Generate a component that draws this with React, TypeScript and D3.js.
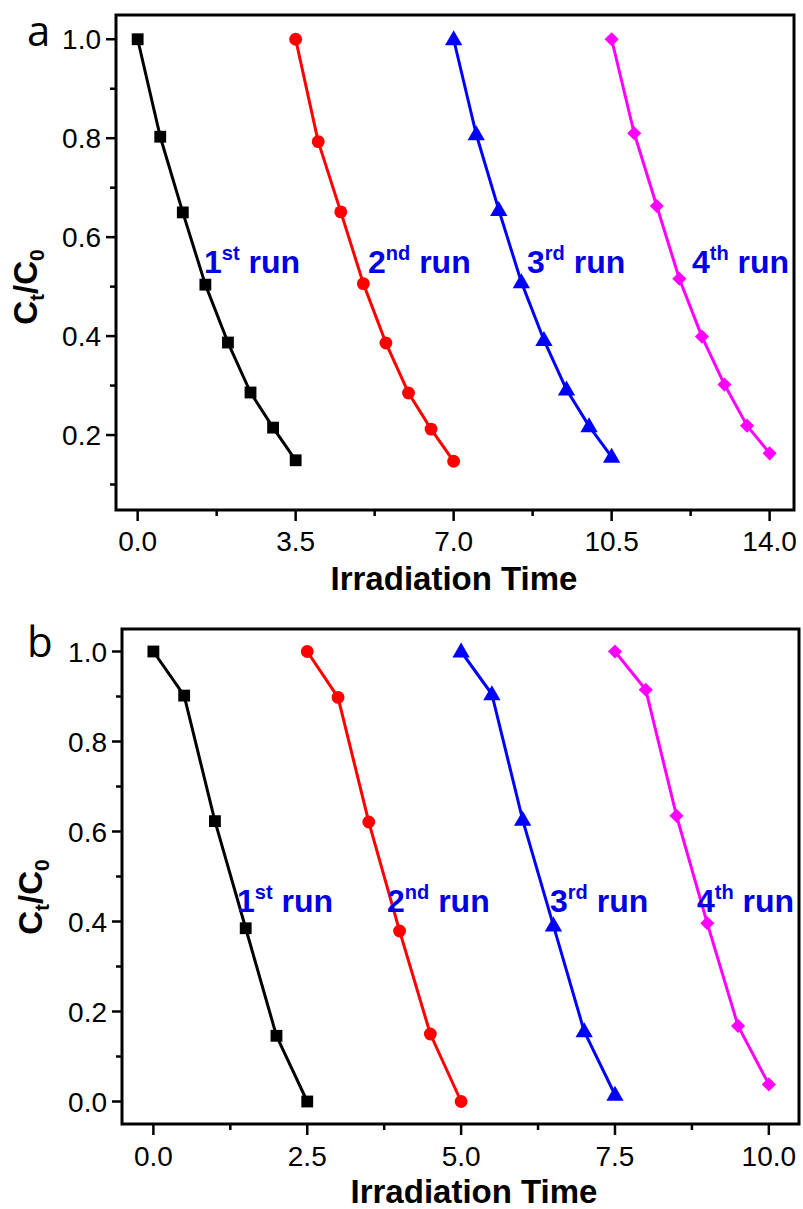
import React from 'react';
import * as d3 from 'd3';

// ---------- Data ----------
const runLabels = ['1st', '2nd', '3rd', '4th'];
const runSup = ['st', 'nd', 'rd', 'th'];
const runColors = ['#000000', '#ff0000', '#0000ff', '#ff00ff'];
const runMarkers = ['square', 'circle', 'triangle', 'diamond'];

// Panel a
const timeA_run1 = [0.0, 0.5, 1.0, 1.5, 2.0, 2.5, 3.0, 3.5];
const timeA_run2 = [3.5, 4.0, 4.5, 5.0, 5.5, 6.0, 6.5, 7.0];
const timeA_run3 = [7.0, 7.5, 8.0, 8.5, 9.0, 9.5, 10.0, 10.5];
const timeA_run4 = [10.5, 11.0, 11.5, 12.0, 12.5, 13.0, 13.5, 14.0];
const ctA_run1 = [1.0, 0.803, 0.65, 0.504, 0.387, 0.286, 0.215, 0.149];
const ctA_run2 = [1.0, 0.793, 0.651, 0.506, 0.386, 0.285, 0.212, 0.147];
const ctA_run3 = [1.0, 0.808, 0.655, 0.509, 0.392, 0.292, 0.218, 0.156];
const ctA_run4 = [1.0, 0.81, 0.663, 0.516, 0.399, 0.302, 0.219, 0.163];
const xTicksA = [0.0, 3.5, 7.0, 10.5, 14.0];
const xMinorA = [1.75, 5.25, 8.75, 12.25];
const yTicksA = [0.2, 0.4, 0.6, 0.8, 1.0];
const yMinorA = [0.1, 0.3, 0.5, 0.7, 0.9];

// Panel b
const timeB_run1 = [0.0, 0.5, 1.0, 1.5, 2.0, 2.5];
const timeB_run2 = [2.5, 3.0, 3.5, 4.0, 4.5, 5.0];
const timeB_run3 = [5.0, 5.5, 6.0, 6.5, 7.0, 7.5];
const timeB_run4 = [7.5, 8.0, 8.5, 9.0, 9.5, 10.0];
const ctB_run1 = [1.0, 0.902, 0.623, 0.385, 0.146, 0.0];
const ctB_run2 = [1.0, 0.898, 0.621, 0.379, 0.15, 0.0];
const ctB_run3 = [1.0, 0.905, 0.626, 0.391, 0.156, 0.015];
const ctB_run4 = [1.0, 0.915, 0.635, 0.396, 0.168, 0.038];
const xTicksB = [0.0, 2.5, 5.0, 7.5, 10.0];
const xMinorB = [1.25, 3.75, 6.25, 8.75];
const yTicksB = [0.0, 0.2, 0.4, 0.6, 0.8, 1.0];
const yMinorB = [0.1, 0.3, 0.5, 0.7, 0.9];

const xTitle = 'Irradiation Time';

type Series = { x: number[]; y: number[] };

const FONT = 'Arial, "Liberation Sans", Helvetica, sans-serif';

function markerPath(kind: string): string {
  if (kind === 'square') return d3.symbol(d3.symbolSquare, 140)() as string;
  if (kind === 'circle') return d3.symbol(d3.symbolCircle, 130)() as string;
  if (kind === 'triangle') return d3.symbol(d3.symbolTriangle, 130)() as string;
  return d3.symbol(d3.symbolSquare, 100)() as string;
}

type PanelProps = {
  letter: string;
  series: Series[];
  xDomain: [number, number];
  yDomain: [number, number];
  xTicks: number[];
  xMinor: number[];
  yTicks: number[];
  yMinor: number[];
  left: number;
  right: number;
  top: number;
  bottom: number;
  labelPos: [number, number][];
  letterPos: [number, number];
  yTitlePos: [number, number];
  xTitlePos: [number, number];
  xTickBaseline: number;
};

function Panel(p: PanelProps) {
  const x = d3.scaleLinear().domain(p.xDomain).range([p.left, p.right]);
  const y = d3.scaleLinear().domain(p.yDomain).range([p.bottom, p.top]);
  const line = d3
    .line<[number, number]>()
    .x((d) => x(d[0]))
    .y((d) => y(d[1]));
  const major = 10;
  const minor = 6;
  return (
    <g>
      {/* series */}
      {p.series.map((s, i) => {
        const pts: [number, number][] = s.x.map((xv, j) => [xv, s.y[j]]);
        const mp = markerPath(runMarkers[i]);
        return (
          <g key={i}>
            <path
              d={line(pts) as string}
              fill="none"
              stroke={runColors[i]}
              strokeWidth={3}
              strokeLinejoin="round"
            />
            {pts.map((d, j) => (
              <path
                key={j}
                d={mp}
                fill={runColors[i]}
                transform={`translate(${x(d[0])},${y(d[1])})${
                  runMarkers[i] === 'diamond' ? ' rotate(45)' : ''
                }${runMarkers[i] === 'triangle' ? ' translate(0,1)' : ''}`}
              />
            ))}
          </g>
        );
      })}
      {/* frame */}
      <rect
        x={p.left}
        y={p.top}
        width={p.right - p.left}
        height={p.bottom - p.top}
        fill="none"
        stroke="#000"
        strokeWidth={3}
      />
      {/* y ticks */}
      {p.yTicks.map((t) => (
        <g key={'yt' + t}>
          <line x1={p.left - major} x2={p.left} y1={y(t)} y2={y(t)} stroke="#000" strokeWidth={2.5} />
          <text
            x={p.left - 15}
            y={y(t) + 10}
            textAnchor="end"
            fontFamily={FONT}
            fontSize={28}
            fill="#000"
          >
            {t.toFixed(1)}
          </text>
        </g>
      ))}
      {p.yMinor.map((t) => (
        <line key={'ym' + t} x1={p.left - minor} x2={p.left} y1={y(t)} y2={y(t)} stroke="#000" strokeWidth={2.5} />
      ))}
      {/* x ticks */}
      {p.xTicks.map((t) => (
        <g key={'xt' + t}>
          <line x1={x(t)} x2={x(t)} y1={p.bottom} y2={p.bottom + major + 1} stroke="#000" strokeWidth={2.5} />
          <text
            x={x(t)}
            y={p.xTickBaseline}
            textAnchor="middle"
            fontFamily={FONT}
            fontSize={28}
            fill="#000"
          >
            {t.toFixed(1)}
          </text>
        </g>
      ))}
      {p.xMinor.map((t) => (
        <line key={'xm' + t} x1={x(t)} x2={x(t)} y1={p.bottom} y2={p.bottom + minor} stroke="#000" strokeWidth={2.5} />
      ))}
      {/* axis titles */}
      <text
        x={p.xTitlePos[0]}
        y={p.xTitlePos[1]}
        textAnchor="middle"
        fontFamily={FONT}
        fontWeight="bold"
        fontSize={33}
        fill="#000"
      >
        {xTitle}
      </text>
      <text
        transform={`translate(${p.yTitlePos[0]},${p.yTitlePos[1]}) rotate(-90)`}
        textAnchor="middle"
        fontFamily={FONT}
        fontWeight="bold"
        fontSize={33}
        fill="#000"
      >
        C
        <tspan fontSize={21} dy={7}>
          t
        </tspan>
        <tspan dy={-7}>/C</tspan>
        <tspan fontSize={21} dy={7}>
          0
        </tspan>
      </text>
      {/* panel letter */}
      <text
        x={p.letterPos[0]}
        y={p.letterPos[1]}
        fontFamily='"Open Sans", "Noto Sans", sans-serif'
        fontSize={42}
        fontWeight={500}
        fill="#000"
      >
        {p.letter}
      </text>
      {/* run labels */}
      {p.labelPos.map((lp, i) => (
        <text
          key={'lbl' + i}
          x={lp[0]}
          y={lp[1]}
          fontFamily={FONT}
          fontWeight="bold"
          fontSize={32}
          fill="#0000e6"
        >
          {runLabels[i].slice(0, 1)}
          <tspan fontSize={20} dy={-13}>
            {runSup[i]}
          </tspan>
          <tspan dy={13}>{' run'}</tspan>
        </text>
      ))}
    </g>
  );
}

export default function App() {
  const seriesA: Series[] = [
    { x: timeA_run1, y: ctA_run1 },
    { x: timeA_run2, y: ctA_run2 },
    { x: timeA_run3, y: ctA_run3 },
    { x: timeA_run4, y: ctA_run4 },
  ];
  const seriesB: Series[] = [
    { x: timeB_run1, y: ctB_run1 },
    { x: timeB_run2, y: ctB_run2 },
    { x: timeB_run3, y: ctB_run3 },
    { x: timeB_run4, y: ctB_run4 },
  ];
  return (
    <svg
      width={803}
      height={1209}
      viewBox="0 0 803 1209"
      style={{ position: 'absolute', left: 0, top: 0, display: 'block', background: '#fff' }}
    >
      <rect x={0} y={0} width={803} height={1209} fill="#fff" />
      <Panel
        letter="a"
        series={seriesA}
        xDomain={[-0.48, 14.54]}
        yDomain={[0.0485, 1.049]}
        xTicks={xTicksA}
        xMinor={xMinorA}
        yTicks={yTicksA}
        yMinor={yMinorA}
        left={116}
        right={794}
        top={15}
        bottom={510}
        labelPos={[
          [204, 273],
          [368, 273],
          [527, 273],
          [692, 273],
        ]}
        letterPos={[27, 46]}
        yTitlePos={[37, 287]}
        xTitlePos={[454, 590]}
        xTickBaseline={551}
      />
      <Panel
        letter="b"
        series={seriesB}
        xDomain={[-0.51, 10.49]}
        yDomain={[-0.05, 1.05]}
        xTicks={xTicksB}
        xMinor={xMinorB}
        yTicks={yTicksB}
        yMinor={yMinorB}
        left={122}
        right={799}
        top={629}
        bottom={1124}
        labelPos={[
          [237, 912],
          [387, 912],
          [550, 912],
          [697, 912],
        ]}
        letterPos={[27, 657]}
        yTitlePos={[42, 897]}
        xTitlePos={[474, 1203]}
        xTickBaseline={1166}
      />
    </svg>
  );
}
